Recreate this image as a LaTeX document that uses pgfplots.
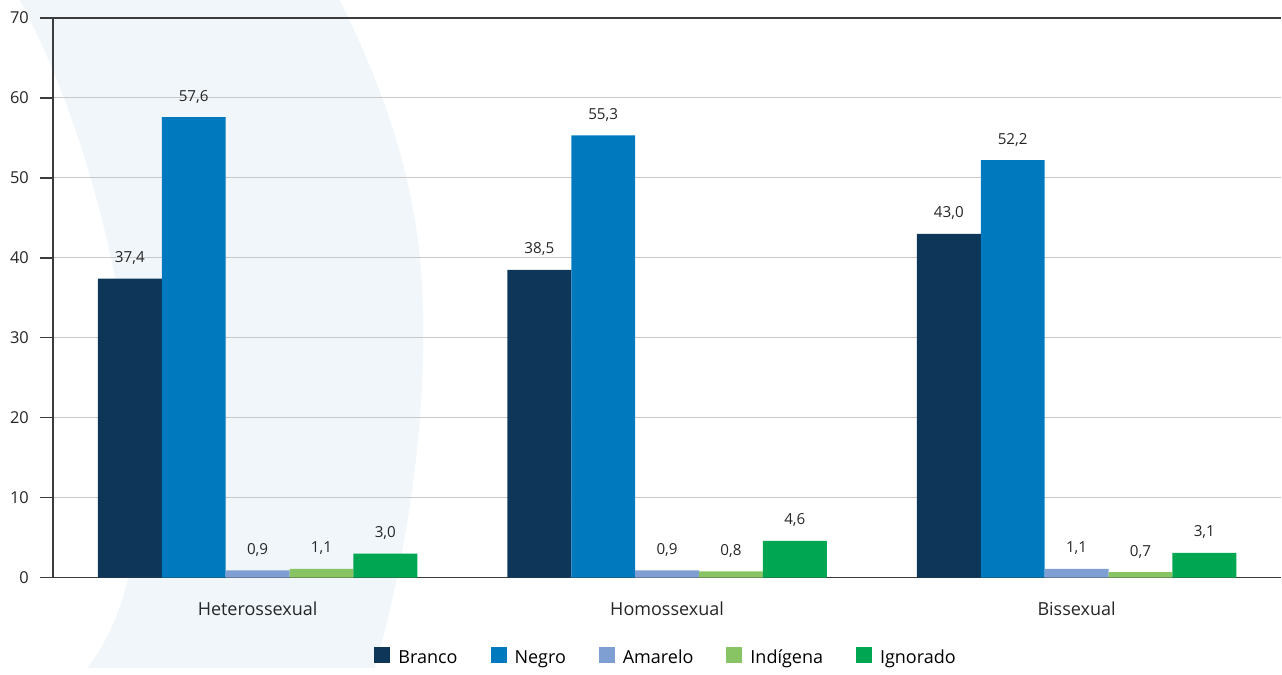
\documentclass[border=0pt]{standalone}
\usepackage{pgfplots}
\pgfplotsset{compat=1.18}
\usepackage{fontspec}
\setmainfont{Open Sans}

\definecolor{cBranco}{HTML}{0D3659}
\definecolor{cNegro}{HTML}{0079BF}
\definecolor{cAmarelo}{HTML}{7F9FD3}
\definecolor{cIndigena}{HTML}{88C464}
\definecolor{cIgnorado}{HTML}{00A651}
\definecolor{wmark}{HTML}{F0F6FA}
\definecolor{axisgray}{HTML}{3C3C3C}
\definecolor{gridgray}{HTML}{C8C8C8}

\begin{document}
\begin{tikzpicture}
\begin{axis}[
    set layers=standard,
    clip=false,
    scale only axis,
    width=614.5pt, height=280pt,
    ybar=0pt, bar width=0.156,
    xmin=-0.5, xmax=2.5,
    ymin=0, ymax=70,
    axis x line*=bottom, axis y line*=left,
    axis line style={axisgray, line width=0.7pt},
    xtick={0,1,2},
    xticklabels={Heterossexual,Homossexual,Bissexual},
    minor xtick={-0.5,0.5,1.5},
    xtick style={draw=none},
    minor x tick style={axisgray, line width=0.7pt},
    minor tick length=7pt,
    ytick={0,10,...,60},
    extra y ticks={70},
    extra y tick style={grid style={axisgray, line width=0.7pt}},
    ytick style={draw=axisgray, line width=0.7pt},
    major tick length=6.5pt,
    tick align=outside,
    ymajorgrids,
    grid style={gridgray, line width=0.6pt},
    yticklabel style={font=\fontsize{8.2}{10}\selectfont, text=black!85, xshift=-2pt},
    xticklabel style={font=\fontsize{9}{11}\selectfont, text=black!85, yshift=-2pt},
    /pgf/number format/assume math mode=true,
    nodes near coords,
    nodes near coords style={font=\fontsize{7.6}{9}\selectfont, text=black!85, yshift=3.5pt,
        /pgf/number format/fixed, /pgf/number format/fixed zerofill,
        /pgf/number format/precision=1, /pgf/number format/use comma,
        /pgf/number format/assume math mode=true},
    legend columns=5,
    legend style={draw=none, fill=none, at={(0.5,0)}, anchor=north, yshift=-32pt,
        font=\fontsize{9}{11}\selectfont,
        /tikz/every even column/.append style={column sep=14.5pt}},
    legend image code/.code={\fill[#1] (0pt,-2.4pt) rectangle (8pt,5.6pt); \path (10pt,0pt);},
]
\begin{pgfonlayer}{axis background}
\fill[wmark] (rel axis cs:-0.027,1.032)
    .. controls (rel axis cs:0.03,0.8) and (rel axis cs:0.07,0.45) .. (rel axis cs:0.069,0.14)
    .. controls (rel axis cs:0.068,0.0) and (rel axis cs:0.05,-0.1) .. (rel axis cs:0.028,-0.161)
    -- (rel axis cs:0.262,-0.161)
    .. controls (rel axis cs:0.29,0.05) and (rel axis cs:0.305,0.3) .. (rel axis cs:0.301,0.5)
    .. controls (rel axis cs:0.298,0.7) and (rel axis cs:0.27,0.87) .. (rel axis cs:0.2335,1.032)
    -- cycle;
\path (rel axis cs:-0.043,0);
\end{pgfonlayer}
\addplot[fill=cBranco, draw=none] coordinates {(0,37.4) (1,38.5) (2,43.0)};
\addplot[fill=cNegro, draw=none] coordinates {(0,57.6) (1,55.3) (2,52.2)};
\addplot[fill=cAmarelo, draw=none] coordinates {(0,0.9) (1,0.9) (2,1.1)};
\addplot[fill=cIndigena, draw=none] coordinates {(0,1.1) (1,0.8) (2,0.7)};
\addplot[fill=cIgnorado, draw=none] coordinates {(0,3.0) (1,4.6) (2,3.1)};
\legend{Branco,Negro,Amarelo,Indígena,Ignorado}
\end{axis}
\end{tikzpicture}
\end{document}
